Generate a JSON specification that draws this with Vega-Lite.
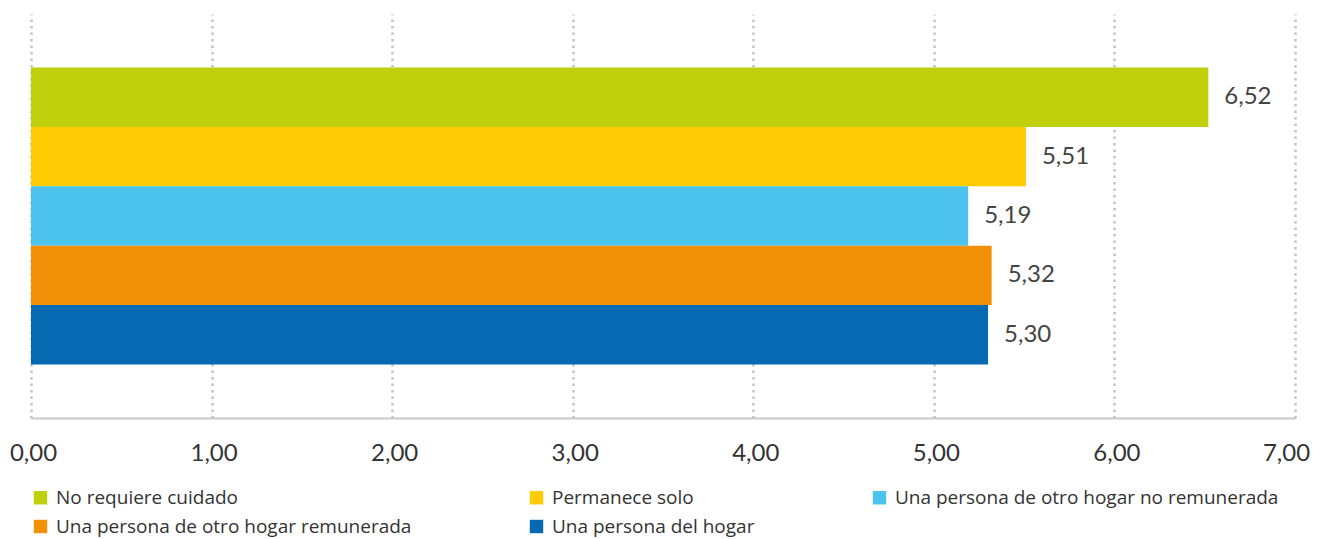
{
  "$schema": "https://vega.github.io/schema/vega-lite/v6.json",
  "autosize": {"type": "none"},
  "padding": {"left": 31, "top": 14, "right": 22, "bottom": 121},
  "width": 1264,
  "height": 404,
  "background": "white",
  "config": {
    "view": {"stroke": null},
    "font": "Lato",
    "locale": {"number": {"decimal": ",", "thousands": ".", "grouping": [3], "currency": ["", " €"]}}
  },
  "data": {
    "values": [
      {"categoria": "No requiere cuidado", "valor": 6.52},
      {"categoria": "Permanece solo", "valor": 5.51},
      {"categoria": "Una persona de otro hogar no remunerada", "valor": 5.19},
      {"categoria": "Una persona de otro hogar remunerada", "valor": 5.32},
      {"categoria": "Una persona del hogar", "valor": 5.30}
    ]
  },
  "encoding": {
    "y": {
      "field": "categoria",
      "type": "nominal",
      "sort": null,
      "axis": null,
      "scale": {"paddingInner": 0, "paddingOuter": 0.9}
    },
    "x": {
      "field": "valor",
      "type": "quantitative",
      "scale": {"domain": [0, 7], "nice": false},
      "axis": {
        "title": null,
        "values": [0, 1, 2, 3, 4, 5, 6, 7],
        "format": ".2f",
        "labelFontSize": 24,
        "labelColor": "#333333",
        "labelPadding": 23,
        "labelOffset": {"condition": {"test": "datum.value == 7", "value": -9}, "value": 2},
        "ticks": false,
        "domainColor": "#c8c8c8",
        "domainWidth": 2,
        "grid": true,
        "gridColor": "#c4c4c4",
        "gridWidth": 2.5,
        "gridDash": [2.5, 4],
        "labelFlush": false
      }
    }
  },
  "layer": [
    {
      "mark": {"type": "bar"},
      "encoding": {
        "color": {
          "field": "categoria",
          "type": "nominal",
          "sort": null,
          "scale": {
            "domain": ["No requiere cuidado", "Permanece solo", "Una persona de otro hogar no remunerada", "Una persona de otro hogar remunerada", "Una persona del hogar"],
            "range": ["#BFCF0C", "#FFCB05", "#4CC3EF", "#F29107", "#066AB3"]
          },
          "legend": {
            "title": null,
            "orient": "bottom",
            "direction": "horizontal",
            "columns": 3,
            "symbolType": "square",
            "symbolSize": 180,
            "symbolStrokeWidth": 0,
            "labelFont": "Open Sans",
            "labelFontSize": 19,
            "labelColor": "#333333",
            "labelLimit": 500,
            "columnPadding": 115,
            "rowPadding": 9,
            "offset": 23,
            "labelOffset": 6
          }
        }
      }
    },
    {
      "mark": {"type": "text", "align": "left", "dx": 16, "fontSize": 24, "color": "#444444"},
      "encoding": {
        "text": {"field": "valor", "type": "quantitative", "format": ".2f"}
      }
    }
  ]
}
